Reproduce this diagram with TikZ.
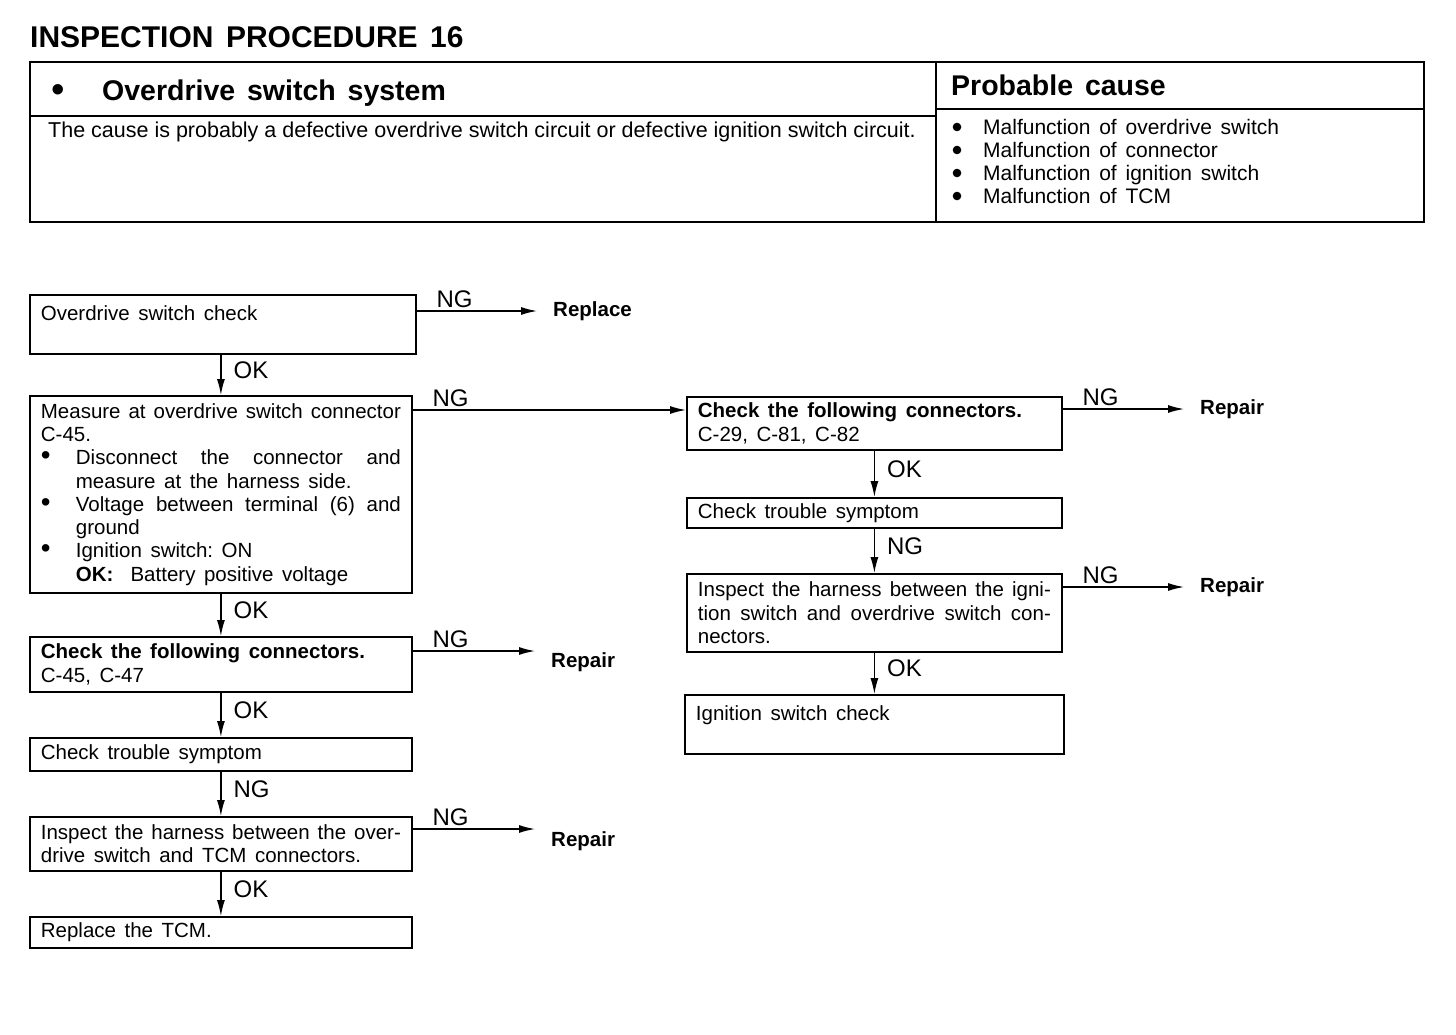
\documentclass[tikz,border=0pt]{standalone}
\usepackage{fontspec}
\setmainfont{Liberation Sans}[WordSpace=1.5]
\newfontfamily\causefont{Liberation Sans}
\usetikzlibrary{arrows.meta}

\newcommand\boxfont{\fontsize{20.5}{23.3}\selectfont\frenchspacing}
\newcommand\bigdot{\scalebox{1.35}{\textbullet}}
\newcommand\jl[1]{\makebox[\hsize][s]{#1}}
\newcommand\itm{\makebox[35pt][l]{\bigdot}}
\newcommand\ind{\hspace*{35pt}}
\newcommand\jli[1]{\makebox[325pt][s]{#1}}

\tikzset{
  stepbox/.style={draw, line width=1.8pt, anchor=north west, align=flush left,
    inner xsep=11pt, inner ysep=3pt, font=\boxfont},
  arr/.style={line width=1.4pt, -{Latex[length=16pt,width=8pt]}},
  lbl/.style={font=\fontsize{24}{24}\selectfont, inner sep=2pt},
  nglbl/.style={lbl, anchor=south west, xshift=17pt, yshift=1pt},
  oklbl/.style={lbl, right=10pt, yshift=5pt},
  res/.style={font=\boxfont\bfseries, anchor=west, inner xsep=16pt, inner ysep=2pt},
  tbl/.style={line width=2.4pt}
}

\begin{document}
\begin{tikzpicture}[x=1pt,y=-1pt]
\useasboundingbox (0,0) rectangle (1456,1034);

% Title
\node[anchor=base west, inner sep=0, font=\fontsize{30}{30}\selectfont\bfseries] (title) at (30,47) {INSPECTION PROCEDURE 16};

% Top table
\draw[tbl] (30,62) rectangle (1424,222);
\draw[tbl] (936,62)--(936,222);
\draw[line width=1.6pt] (30,116)--(936,116);
\draw[line width=1.6pt] (936,109)--(1424,109);

\node[anchor=base, inner sep=0, font=\fontsize{28.5}{30}\selectfont] (hdrdot) at (58,102) {\bigdot};
\node[anchor=base west, inner sep=0, font=\fontsize{28.5}{30}\selectfont\bfseries] (hdr) at (102,100) {Overdrive switch system};
\node[anchor=base west, inner sep=0, font=\causefont\fontsize{21.5}{23}\selectfont] (cause) at (48,137) {The cause is probably a defective overdrive switch circuit or defective ignition switch circuit.};

\node[anchor=base west, inner sep=0, font=\fontsize{28.5}{30}\selectfont\bfseries] (pchdr) at (951,95) {Probable cause};
\foreach \t [count=\i] in {Malfunction of overdrive switch, Malfunction of connector, Malfunction of ignition switch, Malfunction of TCM}
{
\fill (957,{104+23*\i}) circle (4.3pt);
\node[anchor=base west, inner sep=0, font=\fontsize{21}{23}\selectfont] (pc\i) at (983,{111+23*\i}) {\t};
}

% Left column
\node[stepbox, text width=364pt, minimum height=59pt] (odchk) at (29,294) {Overdrive switch check\\\mbox{}};
\node[stepbox, text width=360pt, minimum height=197pt] (meas) at (29,395)
  {\jl{Measure at overdrive switch connector}\\
   C-45.\\
   \itm\jli{Disconnect the connector and}\\
   \ind measure at the harness side.\\
   \itm\jli{Voltage between terminal (6) and}\\
   \ind ground\\
   \itm Ignition switch: ON\\
   \ind\textbf{OK:}\ \ Battery positive voltage};
\node[stepbox, text width=360pt, minimum height=55pt] (conA) at (29,636) {\textbf{Check the following connectors.}\\C-45, C-47};
\node[stepbox, text width=360pt, minimum height=33pt] (symA) at (29,737) {Check trouble symptom};
\node[stepbox, text width=360pt, minimum height=54pt] (harA) at (29,816) {\jl{Inspect the harness between the over-}\\drive switch and TCM connectors.};
\node[stepbox, text width=360pt, minimum height=31pt] (tcm) at (29,916) {Replace the TCM.};

% Right column
\node[stepbox, text width=353pt, minimum height=53pt] (conB) at (686,396) {\textbf{Check the following connectors.}\\C-29, C-81, C-82};
\node[stepbox, text width=353pt, minimum height=30pt] (symB) at (686,497) {Check trouble symptom};
\node[stepbox, text width=353pt, minimum height=78pt] (harB) at (686,573)
  {\jl{Inspect the harness between the igni-}\\
   \jl{tion switch and overdrive switch con-}\\
   nectors.};
\node[stepbox, text width=357pt, minimum height=59pt] (ign) at (684,694) {Ignition switch check\\\mbox{}};

% Results
\node[res] (rep1) at (537,311) {Replace};
\node[res] (rep2) at (535,662) {Repair};
\node[res] (rep3) at (535,841) {Repair};
\node[res] (rep4) at (1184,409) {Repair};
\node[res] (rep5) at (1184,587) {Repair};

% OK / NG down the columns
\draw[arr] (odchk.south -| meas.north)--node[oklbl]{OK} (meas.north);
\draw[arr] (meas.south)--node[oklbl]{OK} (conA.north);
\draw[arr] (conA.south)--node[oklbl]{OK} (symA.north);
\draw[arr] (symA.south)--node[oklbl]{NG} (harA.north);
\draw[arr] (harA.south)--node[oklbl]{OK} (tcm.north);
\draw[arr] (conB.south)--node[oklbl]{OK} (symB.north);
\draw[arr] (symB.south)--node[oklbl]{NG} (harB.north);
\draw[arr] (harB.south)--node[oklbl]{OK} (ign.north);

% NG branches
\draw[arr] ([yshift=-17pt]odchk.north east) coordinate (ng1) node[nglbl]{NG}--(ng1 -| rep1.west);
\draw[arr] ([yshift=-15pt]meas.north east) coordinate (ng2) node[nglbl]{NG}--(ng2 -| conB.west);
\draw[arr] ([yshift=-15pt]conA.north east) coordinate (ng3) node[nglbl]{NG}--(ng3 -| rep2.west);
\draw[arr] ([yshift=-13pt]harA.north east) coordinate (ng4) node[nglbl]{NG}--(ng4 -| rep3.west);
\draw[arr] ([yshift=-13pt]conB.north east) coordinate (ng5) node[nglbl]{NG}--(ng5 -| rep4.west);
\draw[arr] ([yshift=-14pt]harB.north east) coordinate (ng6) node[nglbl]{NG}--(ng6 -| rep5.west);

\end{tikzpicture}
\end{document}
